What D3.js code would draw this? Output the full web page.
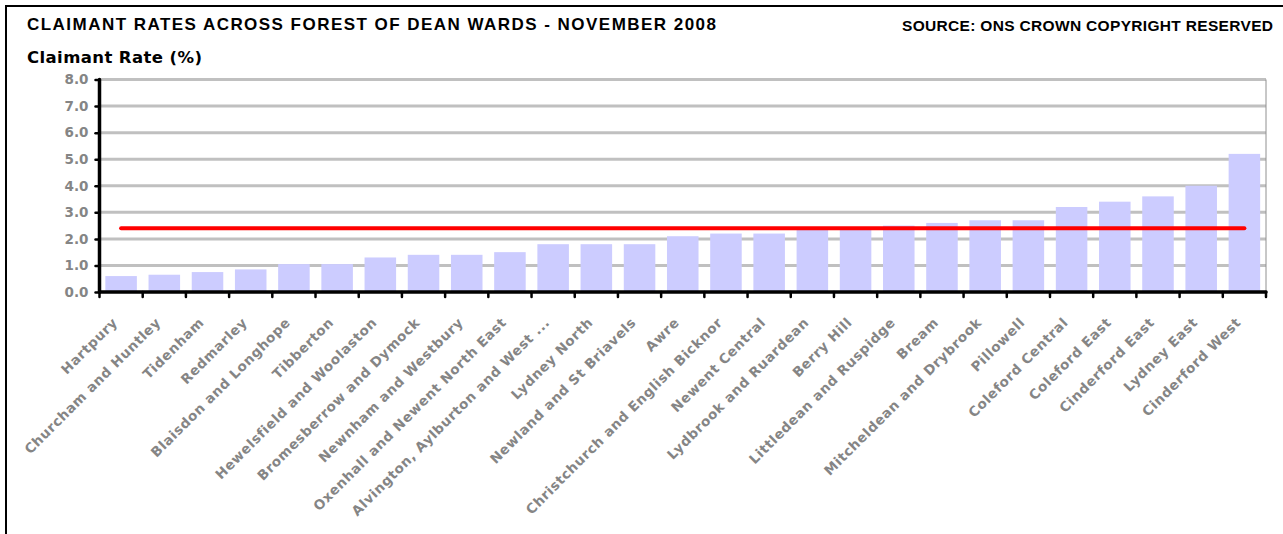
<!DOCTYPE html>
<html>
<head>
<meta charset="utf-8">
<script src="https://cdn.jsdelivr.net/npm/d3@7"></script>
<style>
  body { margin: 0; background: #fff; }
</style>
</head>
<body>
<div id="chart"></div>
<script>
const wards = [
  "Hartpury", "Churcham and Huntley", "Tidenham", "Redmarley", "Blaisdon and Longhope",
  "Tibberton", "Hewelsfield and Woolaston", "Bromesberrow and Dymock", "Newnham and Westbury",
  "Oxenhall and Newent North East", "Alvington, Aylburton and West ...", "Lydney North",
  "Newland and St Briavels", "Awre", "Christchurch and English Bicknor", "Newent Central",
  "Lydbrook and Ruardean", "Berry Hill", "Littledean and Ruspidge", "Bream",
  "Mitcheldean and Drybrook", "Pillowell", "Coleford Central", "Coleford East",
  "Cinderford East", "Lydney East", "Cinderford West"
];
const rates = [0.6, 0.65, 0.75, 0.85, 1.05, 1.05, 1.3, 1.4, 1.4, 1.5, 1.8, 1.8, 1.8, 2.1,
  2.2, 2.2, 2.4, 2.4, 2.5, 2.6, 2.7, 2.7, 3.2, 3.4, 3.6, 4.0, 5.2];
const districtAverage = [2.4, 2.4, 2.4, 2.4, 2.4, 2.4, 2.4, 2.4, 2.4, 2.4, 2.4, 2.4, 2.4, 2.4,
  2.4, 2.4, 2.4, 2.4, 2.4, 2.4, 2.4, 2.4, 2.4, 2.4, 2.4, 2.4, 2.4];
const yTicks = [0, 1, 2, 3, 4, 5, 6, 7, 8];

const width = 1283,
  height = 534;
const svg = d3.select("#chart").append("svg").attr("width", width).attr("height", height);

// outer frame (runs off the bottom/right of the picture)
svg.append("rect")
  .attr("x", 6).attr("y", 6)
  .attr("width", 1400).attr("height", 600)
  .attr("fill", "none").attr("stroke", "#000").attr("stroke-width", 2);

svg.append("text")
  .attr("x", 27).attr("y", 30)
  .attr("font-family", "Liberation Sans, Arial, sans-serif")
  .attr("font-weight", "bold").attr("font-size", 17)
  .attr("textLength", 689).attr("lengthAdjust", "spacing")
  .text("CLAIMANT RATES ACROSS FOREST OF DEAN WARDS - NOVEMBER 2008");

svg.append("text")
  .attr("x", 902).attr("y", 30.5)
  .attr("font-family", "Liberation Sans, Arial, sans-serif")
  .attr("font-weight", "bold").attr("font-size", 15.5)
  .attr("textLength", 371).attr("lengthAdjust", "spacing")
  .text("SOURCE: ONS CROWN COPYRIGHT RESERVED");

svg.append("text")
  .attr("x", 27).attr("y", 63)
  .attr("font-family", "DejaVu Sans, Verdana, sans-serif")
  .attr("font-weight", "bold").attr("font-size", 16.5)
  .attr("textLength", 175).attr("lengthAdjust", "spacing")
  .text("Claimant Rate (%)");

const x = d3.scaleBand().domain(wards).range([99.5, 1266]).paddingInner(0.27).paddingOuter(0.135);
const y = d3.scaleLinear().domain([0, 8]).range([292, 79.5]);

// gridlines
svg.append("g")
  .selectAll("line")
  .data(yTicks.filter(d => d > 0))
  .join("line")
  .attr("x1", 99.5).attr("x2", 1266)
  .attr("y1", d => y(d)).attr("y2", d => y(d))
  .attr("stroke", "#c0c0c0").attr("stroke-width", 3);

// plot area right border
svg.append("line")
  .attr("x1", 1266).attr("x2", 1266)
  .attr("y1", y(8)).attr("y2", y(0))
  .attr("stroke", "#909090").attr("stroke-width", 1);

// bars
svg.append("g")
  .selectAll("rect")
  .data(wards)
  .join("rect")
  .attr("x", d => x(d))
  .attr("width", x.bandwidth())
  .attr("y", (d, i) => y(rates[i]))
  .attr("height", (d, i) => y(0) - y(rates[i]))
  .attr("fill", "#ccccff");

// average line
const avgLine = d3.line()
  .x(d => x(d) + x.bandwidth() / 2)
  .y((d, i) => y(districtAverage[i]));

svg.append("path")
  .datum(wards)
  .attr("d", avgLine)
  .attr("fill", "none")
  .attr("stroke", "#ff0000")
  .attr("stroke-width", 4)
  .attr("stroke-linecap", "round");

// y axis
const yAxis = svg.append("g")
  .attr("transform", "translate(99.5,0)")
  .call(d3.axisLeft(y).tickValues(yTicks).tickSize(4).tickPadding(7).tickFormat(d3.format(".1f")));
yAxis.select(".domain").remove();
yAxis.selectAll(".tick line").attr("stroke", "#000").attr("stroke-width", 2.5).attr("stroke-linecap", "round");
yAxis.selectAll(".tick text")
  .attr("fill", "#858585")
  .attr("font-family", "DejaVu Sans, Verdana, sans-serif")
  .attr("font-weight", "bold").attr("font-size", 13.5);
svg.append("line")
  .attr("x1", 99.5).attr("x2", 99.5)
  .attr("y1", y(8)).attr("y2", y(0))
  .attr("stroke", "#000").attr("stroke-width", 3.5).attr("stroke-linecap", "round");

// x axis
const step = x.step();
const boundaries = d3.range(wards.length + 1).map(i => 99.5 + i * step);
svg.append("g")
  .selectAll("line")
  .data(boundaries)
  .join("line")
  .attr("x1", d => d).attr("x2", d => d)
  .attr("y1", y(0)).attr("y2", y(0) + 5)
  .attr("stroke", "#000").attr("stroke-width", 2.5).attr("stroke-linecap", "round");
svg.append("line")
  .attr("x1", 99.5).attr("x2", 1266)
  .attr("y1", y(0)).attr("y2", y(0))
  .attr("stroke", "#000").attr("stroke-width", 3.5).attr("stroke-linecap", "round");

svg.append("g")
  .selectAll("text")
  .data(wards)
  .join("text")
  .attr("transform", d => `translate(${x(d) + x.bandwidth() / 2 - 6},${320}) rotate(-45)`)
  .attr("text-anchor", "end")
  .attr("dy", "0.35em")
  .attr("fill", "#858585")
  .attr("font-family", "DejaVu Sans, Verdana, sans-serif")
  .attr("font-weight", "bold").attr("font-size", 13.5)
  .attr("letter-spacing", 0.6)
  .text(d => d);
</script>
</body>
</html>
